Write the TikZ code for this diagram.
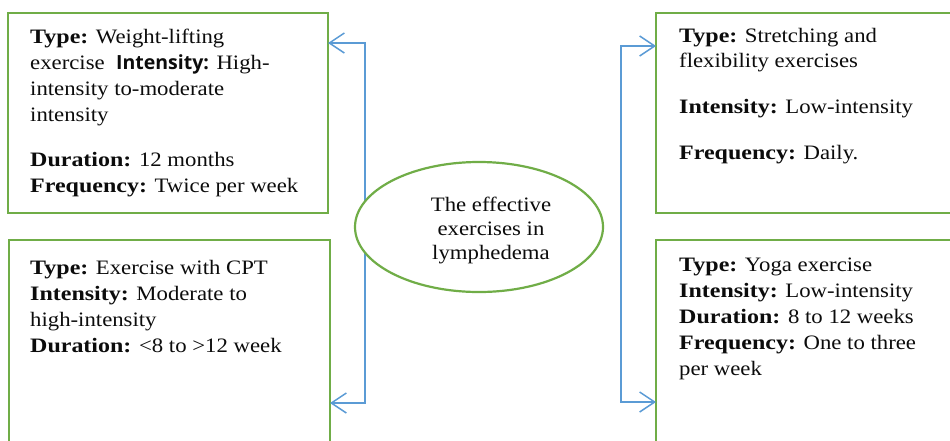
\documentclass[tikz,border=0pt]{standalone}
\usepackage{fontspec}
\setmainfont{Liberation Serif}[FakeStretch=1.11, BoldFeatures={FakeStretch=1.17}]
\newfontfamily\labelsans{Open Sans}
\usetikzlibrary{arrows.meta,shapes.geometric}
\definecolor{boxgreen}{RGB}{112,173,71}
\definecolor{linkblue}{RGB}{91,155,213}
\definecolor{inkgray}{RGB}{12,12,12}
% fixed-height strut so a text block's top edge sits 15pt above its first baseline
\newcommand\topstrut{\rule{0pt}{15pt}}
\begin{document}
\begin{tikzpicture}[x=1pt,y=-1pt,
  panel/.style={draw=boxgreen, line width=2.6pt, fill=white, inner sep=0pt,
    outer sep=0pt, anchor=north west},
  hub/.style={ellipse, draw=boxgreen, line width=2.2pt, fill=white,
    minimum width=248pt, minimum height=130pt, inner sep=0pt},
  blocktext/.style={anchor=north west, align=left, inner sep=0pt, text=inkgray,
    font=\fontsize{20.5}{26}\selectfont},
  hubtext/.style={anchor=north, align=center, inner sep=0pt, text=inkgray,
    font=\fontsize{20.5}{24}\selectfont},
  link/.style={draw=linkblue, line width=1.5pt,
    {Straight Barb[length=15pt,width=20pt]}-{Straight Barb[length=15pt,width=20pt]}}
]
\useasboundingbox (0,0) rectangle (950,440);
\clip (0,0) rectangle (950,440);

% four exercise panels
\node[panel, minimum width=320pt, minimum height=200pt] (tl) at (8,13) {};
\node[panel, minimum width=321pt, minimum height=220pt] (bl) at (9,240) {};
\node[panel, minimum width=310pt, minimum height=200pt] (tr) at (656,13) {};
\node[panel, minimum width=310pt, minimum height=220pt] (br) at (656,240) {};

% bracket connectors from the central hub to the panels
\coordinate (lt) at (365,43);
\coordinate (lb) at (365,403);
\coordinate (rt) at (621,46);
\coordinate (rb) at (621,402);
\draw[link] (lt -| tl.east) -- (lt) -- (lb) -- (lb -| bl.east);
\draw[link] (rt -| tr.west) -- (rt) -- (rb) -- (rb -| br.west);

% central hub
\node[hub] (hub) at (479,227) {};
\node[hubtext] (hublabel) at (491,196)
  {\topstrut The effective\\exercises in\\lymphedema};

% panel texts
\node[blocktext] (tltext) at (30,28)
  {\topstrut\textbf{Type:} Weight-lifting\\
   exercise\ \ {\labelsans\bfseries\fontsize{19.5}{26}\selectfont Intensity:} High-\\
   intensity to-moderate\\
   intensity\\[19pt]
   \textbf{Duration:} 12 months\\
   \textbf{Frequency:} Twice per week};

\node[blocktext] (bltext) at (30,259)
  {\topstrut\textbf{Type:} Exercise with CPT\\
   \textbf{Intensity:} Moderate to\\
   high-intensity\\
   \textbf{Duration:} <8 to >12 week};

\node[blocktext, font=\fontsize{20.5}{25}\selectfont] (trtext) at (679,27)
  {\topstrut\textbf{Type:} Stretching and\\
   flexibility exercises\\[21pt]
   \textbf{Intensity:} Low-intensity\\[21pt]
   \textbf{Frequency:} Daily.};

\node[blocktext] (brtext) at (679,256)
  {\topstrut\textbf{Type:} Yoga exercise\\
   \textbf{Intensity:} Low-intensity\\
   \textbf{Duration:} 8 to 12 weeks\\
   \textbf{Frequency:} One to three\\
   per week};
\end{tikzpicture}
\end{document}
